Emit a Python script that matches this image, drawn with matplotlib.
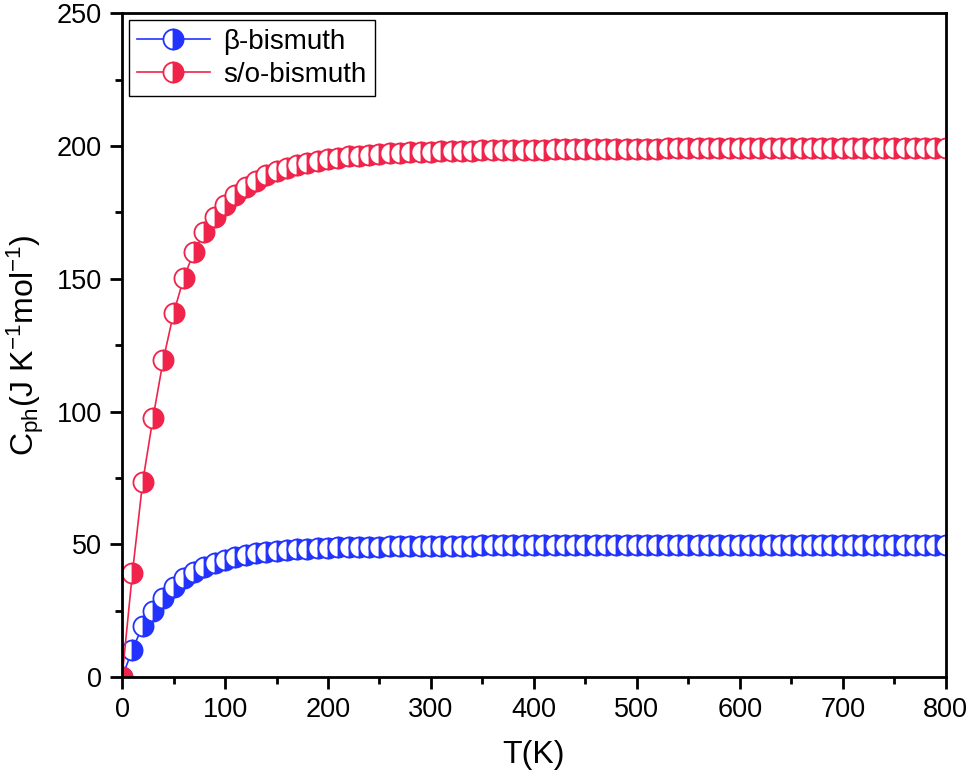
import matplotlib
matplotlib.use('Agg')
import matplotlib.pyplot as plt
from matplotlib.ticker import MultipleLocator

plt.rcParams['font.family'] = ['Liberation Sans', 'DejaVu Sans']
plt.rcParams['mathtext.default'] = 'regular'

# temperatura (K)
temp = [0, 10, 20, 30, 40, 50, 60, 70, 80, 90,
        100, 110, 120, 130, 140, 150, 160, 170, 180, 190,
        200, 210, 220, 230, 240, 250, 260, 270, 280, 290,
        300, 310, 320, 330, 340, 350, 360, 370, 380, 390,
        400, 410, 420, 430, 440, 450, 460, 470, 480, 490,
        500, 510, 520, 530, 540, 550, 560, 570, 580, 590,
        600, 610, 620, 630, 640, 650, 660, 670, 680, 690,
        700, 710, 720, 730, 740, 750, 760, 770, 780, 790, 800]

# beta-bismuth
cp_beta = [0, 10.3, 19.4, 24.8, 29.8, 33.9, 37.2, 39.6, 41.5, 43.0,
           44.3, 45.3, 46.1, 46.7, 47.2, 47.6, 47.9, 48.2, 48.4, 48.6,
           48.7, 48.9, 49.0, 49.1, 49.2, 49.2, 49.3, 49.3, 49.4, 49.4,
           49.4, 49.5, 49.5, 49.5, 49.5, 49.6, 49.6, 49.6, 49.6, 49.6,
           49.6, 49.7, 49.7, 49.7, 49.7, 49.7, 49.7, 49.7, 49.7, 49.7,
           49.7, 49.7, 49.7, 49.7, 49.7, 49.7, 49.8, 49.8, 49.8, 49.8,
           49.8, 49.8, 49.8, 49.8, 49.8, 49.8, 49.8, 49.8, 49.8, 49.8,
           49.8, 49.8, 49.8, 49.8, 49.8, 49.8, 49.8, 49.8, 49.8, 49.8, 49.8]

# s/o-bismuth
cp_so = [0, 39.2, 73.5, 97.6, 119.5, 137.0, 150.5, 160.3, 167.6, 173.3,
         177.8, 181.5, 184.5, 187.0, 189.0, 190.6, 191.9, 192.9, 193.8, 194.5,
         195.1, 195.6, 196.1, 196.4, 196.7, 197.0, 197.3, 197.5, 197.6, 197.8,
         197.9, 198.0, 198.1, 198.2, 198.3, 198.4, 198.5, 198.5, 198.6, 198.6,
         198.7, 198.7, 198.8, 198.8, 198.8, 198.9, 198.9, 198.9, 199.0, 199.0,
         199.0, 199.0, 199.0, 199.1, 199.1, 199.1, 199.1, 199.1, 199.1, 199.2,
         199.2, 199.2, 199.2, 199.2, 199.2, 199.2, 199.3, 199.3, 199.3, 199.3,
         199.3, 199.3, 199.3, 199.3, 199.3, 199.3, 199.4, 199.4, 199.4, 199.4, 199.4]

azul = '#2233ff'
vermelho = '#f0234b'

fig = plt.figure(figsize=(9.69, 7.82), dpi=100)
ax = fig.add_axes([0.126, 0.134, 0.85, 0.849])

ax.plot(temp, cp_beta, color=azul, lw=1.2, marker='o', ms=14.5,
        fillstyle='right', markerfacecolor=azul, markerfacecoloralt='white',
        markeredgecolor=azul, markeredgewidth=1.3, label='β-bismuth')
ax.plot(temp, cp_so, color=vermelho, lw=1.2, marker='o', ms=14.5,
        fillstyle='right', markerfacecolor=vermelho, markerfacecoloralt='white',
        markeredgecolor=vermelho, markeredgewidth=1.3, label='s/o-bismuth')

ax.set_xlim(0, 800)
ax.set_ylim(0, 250)
ax.xaxis.set_major_locator(MultipleLocator(100))
ax.xaxis.set_minor_locator(MultipleLocator(50))
ax.yaxis.set_major_locator(MultipleLocator(50))
ax.yaxis.set_minor_locator(MultipleLocator(25))
ax.tick_params(which='both', direction='out', width=2, labelsize=19.5,
               top=False, right=False)
ax.tick_params(which='major', length=8.5, pad=6)
ax.tick_params(which='minor', length=5)
for s in ax.spines.values():
    s.set_linewidth(2)

ax.set_xlabel('T(K)', fontsize=23, labelpad=12)
ax.set_ylabel(r'C$_{ph}$(J K$^{-1}$mol$^{-1}$)', fontsize=23, labelpad=8)

leg = ax.legend(loc='upper left', fontsize=20, frameon=True, fancybox=False,
                edgecolor='black', framealpha=1, borderaxespad=0.25,
                handlelength=2.6, borderpad=0.3, labelspacing=0.25,
                handletextpad=0.5)
leg.get_frame().set_linewidth(1.0)

plt.savefig('out.png', dpi=100)
